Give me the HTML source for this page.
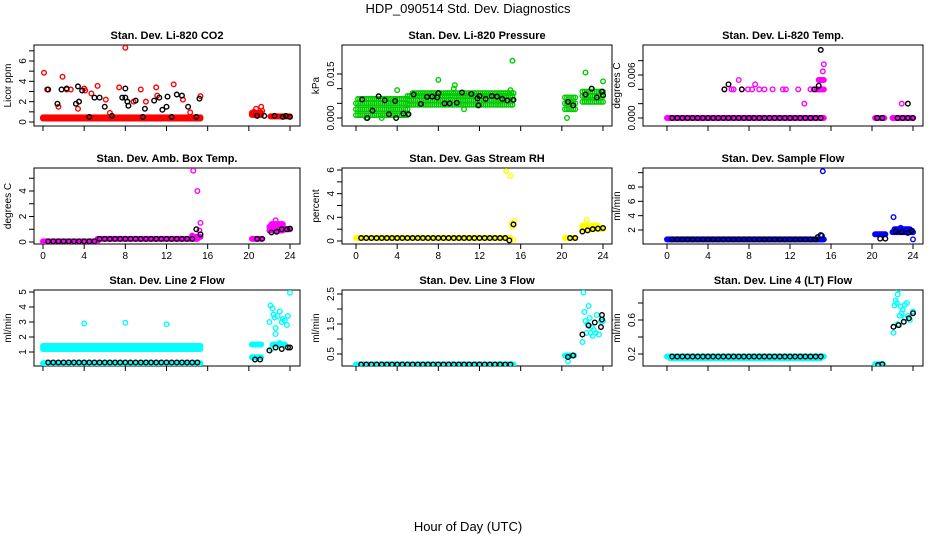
<!DOCTYPE html>
<html><head><meta charset="utf-8"><style>
html,body{margin:0;padding:0;background:#fff;}
svg{display:block;font-family:"Liberation Sans",sans-serif;}
</style></head><body>
<svg id="chart" width="936" height="540" viewBox="0 0 936 540">
<text x="468" y="13" text-anchor="middle" font-size="13">HDP_090514  Std. Dev. Diagnostics</text>
<text x="468" y="531" text-anchor="middle" font-size="13">Hour of Day (UTC)</text>
</svg>
<script>
// ---- data: band segments [startHour, endHour, value], points [hour, value] ----
const co2Band=[[0,15.3,0.45],[0,15.3,0.35],[20.3,21.2,0.9],[20.3,21.2,0.7],[22.1,24,0.55]];
const co2Red=[[0.1,4.85],[1.9,4.45],[2.7,3.2],[4.0,3.3],[4.7,2.8],[5.3,3.55],[6.1,2.2],[7.4,3.4],[8.0,7.3],[9.5,3.2],[10.0,2.0],[11.0,3.4],[11.1,2.6],[12.7,3.7],[13.6,2.2],[15.3,2.55],[0.4,3.2],[2.3,3.2],[3.4,1.3],[4.1,3.1],[1.5,1.5],[6.5,0.9],[8.8,2.0],[14.3,0.95],[20.7,1.3],[21.2,1.5],[21.3,1.1],[20.5,1.0]];
const co2Black=[[0.5,3.2],[1.4,1.8],[1.8,3.2],[2.3,3.3],[3.2,1.8],[3.4,3.5],[3.5,2.0],[3.8,3.1],[4.5,0.5],[5.0,2.4],[5.5,2.4],[6.0,1.5],[6.7,0.6],[7.7,2.4],[8.0,2.4],[8.2,2.0],[8.3,1.6],[8.0,3.3],[9.0,2.1],[9.7,0.5],[9.9,1.3],[10.8,2.1],[11.3,2.4],[11.6,1.2],[12.0,1.5],[12.1,2.5],[12.5,0.5],[13.0,2.7],[13.5,2.6],[14.1,1.5],[14.9,0.5],[15.2,2.3],[20.8,0.6],[21.5,0.6],[22.5,0.6],[23.3,0.5],[23.6,0.6],[24.0,0.5]];
const co2BlackBand=[];

const presBand=[[0,5,0.001],[0,5,0.003],[0,5,0.005],[0.2,5,0.0065],[5,15.3,0.0045],[5,15.3,0.006],[5,15.3,0.0075],[5.5,15.3,0.0085],[20.3,21.3,0.003],[20.3,21.3,0.005],[20.3,21.3,0.007],[22,24,0.0055],[22,24,0.0075],[22,24,0.009]];
const presGreen=[[15.2,0.0195],[22.3,0.0155],[24,0.0125],[4.0,0.0095],[8.0,0.0130],[9.6,0.0112],[9.5,0.0100],[15.0,0.0095],[20.5,0.0],[1.0,0.0],[2.5,0.0],[10.5,0.003]];
const presBlack=[[0.6,0.0063],[1.1,0.0],[1.6,0.0025],[2.2,0.0074],[2.8,0.0060],[3.2,0.0013],[3.8,0.0058],[3.9,0.0],[4.6,0.0015],[5.1,0.0013],[5.6,0.0080],[6.3,0.0048],[6.9,0.0072],[7.4,0.0073],[7.9,0.0070],[8.0,0.0085],[8.6,0.0050],[9.1,0.0050],[9.8,0.0052],[10.3,0.0087],[11.2,0.0082],[11.8,0.0067],[11.9,0.0043],[12.0,0.0075],[12.6,0.0065],[13.2,0.0075],[13.7,0.0073],[14.2,0.0065],[14.7,0.0060],[15.3,0.0062],[20.6,0.0055],[21.1,0.0043],[22.3,0.0080],[22.9,0.0100],[23.4,0.0070],[23.9,0.0090],[24.0,0.0078]];
const presBlackBand=[];

const tempBand=[[0,15.3,0],[14.6,15.3,0.004],[14.8,15.3,0.0053],[20.3,21.2,0],[22,24,0]];
const tempMag=[[5.6,0.004],[6.3,0.004],[6.5,0.004],[7.3,0.004],[7.9,0.004],[8.3,0.004],[9.0,0.004],[9.5,0.004],[10.3,0.004],[11.3,0.004],[11.6,0.004],[12.8,0.004],[14.0,0.004],[14.3,0.004],[13.4,0.002],[7.0,0.0053],[8.6,0.0047],[15.2,0.0065],[15.3,0.0075],[22.9,0.002]];
const tempBlack=[[5.6,0.004],[6.0,0.0047],[7.3,0.004],[14.4,0.004],[14.8,0.0045],[15.0,0.0095],[23.5,0.002]];
const tempBlackBand=[[0.5,15,0],[20.5,21,0],[22.5,24,0]];

const ambBand=[[0,5.3,0.05],[5.3,15,0.25],[14.5,15.3,0.4],[20.3,21.2,0.25],[22,23.3,0.9],[22,23.3,1.2],[22.2,23.3,1.4],[23.3,24,1.0]];
const ambMag=[[14.6,5.6],[15.0,4.0],[15.3,1.5],[15.2,0.9],[14.5,0.5],[22.6,1.7]];
const ambBlack=[[14.9,1.0],[15.3,0.6],[22.2,0.75],[22.7,0.8],[23.2,1.0],[23.7,1.0],[24,1.05]];
const ambBlackBand=[[0.5,5,0.05],[5.5,14.5,0.25],[20.8,21.3,0.25]];

const rhBand=[[0,15,0.25],[20.3,21.3,0.25],[22,23.5,1.0],[22,23.5,1.3],[23.5,24,1.0]];
const rhYel=[[14.6,5.9],[15.0,5.5],[15.1,1.5],[15.2,1.2],[15.4,1.7],[14.9,0.05],[15.3,0.1],[22.4,1.8]];
const rhBlack=[[15.3,1.4],[14.9,0.05],[22.0,0.8],[22.5,0.9],[23.0,1.0],[23.5,1.05],[24,1.1]];
const rhBlackBand=[[0.5,14.5,0.25],[20.8,21.3,0.25]];

const flowBand=[[0,15.3,0.7],[20.3,21.3,1.4],[22,24,1.7],[22.2,23.7,2.1]];
const flowBlue=[[15.2,10.2],[15.0,1.3],[22.1,3.8],[24,0.7],[22.8,2.3]];
const flowBlack=[[14.7,1.0],[15.1,1.2],[20.8,0.8],[21.3,0.8],[22.3,1.8],[22.9,1.7],[23.5,1.6],[23.9,1.9]];
const flowBlackBand=[[0.5,14.5,0.7]];

const l2Band=[[0,15.3,1.2],[0,15.3,1.4],[0,15.3,0.25],[20.3,21.2,1.5],[20.3,21.2,0.65],[22.3,23.5,1.5]];
const l2Cyan=[[4.0,2.9],[8.0,2.95],[12.0,2.85],[24,4.95],[22.0,3.0],[22.1,4.1],[22.3,3.9],[22.4,3.5],[22.6,2.6],[22.6,2.2],[22.8,3.4],[23.0,3.7],[23.2,3.0],[23.5,3.1],[23.7,2.8],[23.8,3.4],[22.5,1.5],[23.0,1.6],[22.2,1.2],[22.5,3.3],[23.3,3.2]];
const l2Black=[[20.6,0.5],[21.1,0.5],[22.0,1.1],[22.6,1.3],[23.2,1.2],[23.8,1.3],[24,1.3]];
const l2BlackBand=[[0.5,15,0.3]];

const l3Band=[[0,15.3,0.15],[20.3,21.2,0.45]];
const l3Cyan=[[20.6,0.25],[22.1,2.55],[22.2,1.9],[22.6,2.1],[22.3,1.6],[22.5,1.5],[22.0,0.9],[22.8,1.2],[23.1,1.3],[23.4,1.8],[23.8,1.6],[23.0,1.1],[22.4,1.2],[23.3,1.2],[22.7,1.7],[24,1.6],[23.6,1.15],[22.9,1.4]];
const l3Black=[[20.6,0.4],[21.1,0.45],[22.0,1.15],[22.6,1.45],[23.2,1.55],[23.9,1.8],[23.9,1.65],[23.8,1.4]];
const l3BlackBand=[[0.5,15,0.15]];

const l4Band=[[0,15.3,0.17],[0.3,15,0.15],[20.3,21.1,0.08]];
const l4Cyan=[[22.6,0.96],[22.5,0.9],[22.3,0.83],[22.4,0.8],[22.2,0.77],[22.8,0.76],[23.2,0.78],[23.4,0.8],[23.0,0.72],[22.9,0.68],[23.5,0.65],[24,0.7],[22.1,0.45],[22.5,0.55],[23.2,0.62],[22.7,0.65],[23.7,0.6]];
const l4Black=[[20.6,0.07],[21.0,0.08],[22.1,0.52],[22.6,0.54],[23.1,0.58],[23.6,0.62],[24.0,0.68]];
const l4BlackBand=[[0.5,15,0.17]];

const xTicks=[0,4,8,12,16,20,24];

// ---- layout ----
const colX0=[43,356,667], colX24=[290,603,913], boxL=[34,342,643], boxR=[300,612,923];
const rowT=[45,168,290], rowB=[126,244,366];
const panels=[
 {name:'co2',title:'Stan. Dev. Li-820 CO2',ylab:'Licor ppm',c:'#ff0000',r:0,k:0,y:[0,122,6,61],ticks:[0,1,2,3,4,5,6,7],labels:[0,2,4,6],fmt:0,step:0.1,band:co2Band,pts:co2Red,blk:co2Black,bband:co2BlackBand},
 {name:'pressure',title:'Stan. Dev. Li-820 Pressure',ylab:'kPa',c:'#00cc00',r:0,k:1,y:[0,118,0.015,74],ticks:[0,0.005,0.01,0.015],labels:[0,0.015],fmt:3,step:0.2,band:presBand,pts:presGreen,blk:presBlack,bband:presBlackBand},
 {name:'li820-temp',title:'Stan. Dev. Li-820 Temp.',ylab:'degrees C',c:'#ff00ff',r:0,k:2,y:[0,118,0.006,75],ticks:[0,0.002,0.004,0.006,0.008],labels:[0,0.006],fmt:3,step:0.1,band:tempBand,pts:tempMag,blk:tempBlack,bband:tempBlackBand},
 {name:'amb-box-temp',title:'Stan. Dev. Amb. Box Temp.',ylab:'degrees C',c:'#ff00ff',r:1,k:0,y:[0,242,4,191],ticks:[0,1,2,3,4,5],labels:[0,2,4],fmt:0,step:0.1,band:ambBand,pts:ambMag,blk:ambBlack,bband:ambBlackBand},
 {name:'gas-stream-rh',title:'Stan. Dev. Gas Stream RH',ylab:'percent',c:'#ffff00',r:1,k:1,y:[0,241,6,170],ticks:[0,1,2,3,4,5,6],labels:[0,2,4,6],fmt:0,step:0.1,band:rhBand,pts:rhYel,blk:rhBlack,bband:rhBlackBand},
 {name:'sample-flow',title:'Stan. Dev. Sample Flow',ylab:'ml/min',c:'#0000ff',r:1,k:2,y:[2,230,8,187],ticks:[2,4,6,8,10],labels:[2,4,6,8],fmt:0,step:0.1,band:flowBand,pts:flowBlue,blk:flowBlack,bband:flowBlackBand},
 {name:'line2-flow',title:'Stan. Dev. Line 2 Flow',ylab:'ml/min',c:'#00ffff',r:2,k:0,y:[1,352,5,292],ticks:[1,2,3,4,5],labels:[1,2,3,4,5],fmt:0,step:0.1,band:l2Band,pts:l2Cyan,blk:l2Black,bband:l2BlackBand},
 {name:'line3-flow',title:'Stan. Dev. Line 3 Flow',ylab:'ml/min',c:'#00ffff',r:2,k:1,y:[0.5,354,2.5,294],ticks:[0.5,1,1.5,2,2.5],labels:[0.5,1.5,2.5],fmt:1,step:0.1,band:l3Band,pts:l3Cyan,blk:l3Black,bband:l3BlackBand},
 {name:'line4-flow',title:'Stan. Dev. Line 4 (LT) Flow',ylab:'ml/min',c:'#00ffff',r:2,k:2,y:[0.2,354,0.6,320],ticks:[0.2,0.4,0.6,0.8],labels:[0.2,0.6],fmt:1,step:0.1,band:l4Band,pts:l4Cyan,blk:l4Black,bband:l4BlackBand}
];
const NS='http://www.w3.org/2000/svg';
const svg=document.getElementById('chart');
function mk(tag,attrs,parent){const e=document.createElementNS(NS,tag);for(const a in attrs)e.setAttribute(a,attrs[a]);(parent||svg).appendChild(e);return e;}
panels.forEach(p=>{
 const g=mk('g',{});
 
 
 const L=boxL[p.k],R=boxR[p.k],T=rowT[p.r],B=rowB[p.r];
 const xs=h=>colX0[p.k]+(colX24[p.k]-colX0[p.k])*h/24;
 const ys=v=>p.y[1]+(p.y[3]-p.y[1])*(v-p.y[0])/(p.y[2]-p.y[0]);
 const cp=mk('clipPath',{id:'cp'+p.name},g);mk('rect',{x:L,y:T,width:R-L,height:B-T},cp);
 const box=mk('rect',{x:L,y:T,width:R-L,height:B-T,fill:'none',stroke:'#000','stroke-width':1},g);
 
 
 const t=mk('text',{x:(L+R)/2,y:T-6,'text-anchor':'middle','font-size':11,'font-weight':'bold'},g);t.textContent=p.title;
 
 
 const yl=mk('text',{x:0,y:0,'text-anchor':'middle','font-size':10,transform:`translate(${L-23},${(T+B)/2}) rotate(-90)`},g);yl.textContent=p.ylab;
 
 
 xTicks.forEach(h=>{mk('line',{x1:xs(h),x2:xs(h),y1:B,y2:B+5,stroke:'#000'},g);
  if(p.r===1){const tl=mk('text',{x:xs(h),y:B+15,'text-anchor':'middle','font-size':10},g);tl.textContent=h;
   
   }});
 p.ticks.forEach(v=>{const y=ys(v);if(y<T-1)return;mk('line',{x1:L-5,x2:L,y1:y,y2:y,stroke:'#000'},g);});
 p.labels.forEach(v=>{const y=ys(v);const tl=mk('text',{x:0,y:0,'text-anchor':'middle','font-size':10,transform:`translate(${L-8},${y}) rotate(-90)`},g);tl.textContent=v.toFixed(p.fmt);
  
  });
 const dg=mk('g',{'clip-path':`url(#cp${p.name})`},g);
 const dot=(h,v,col)=>{const c=mk('circle',{cx:xs(h),cy:ys(v),r:2.3,fill:'none',stroke:col,'stroke-width':1.4},dg);
  
  };
 p.band.forEach(s=>{for(let h=s[0];h<=s[1]+1e-6;h+=p.step)dot(h,s[2],p.c);});
 p.pts.forEach(d=>dot(d[0],d[1],p.c));
 p.bband.forEach(s=>{for(let h=s[0];h<=s[1]+1e-6;h+=0.5)dot(h,s[2],'#000');});
 p.blk.forEach(d=>dot(d[0],d[1],'#000'));
});
</script>
</body></html>
